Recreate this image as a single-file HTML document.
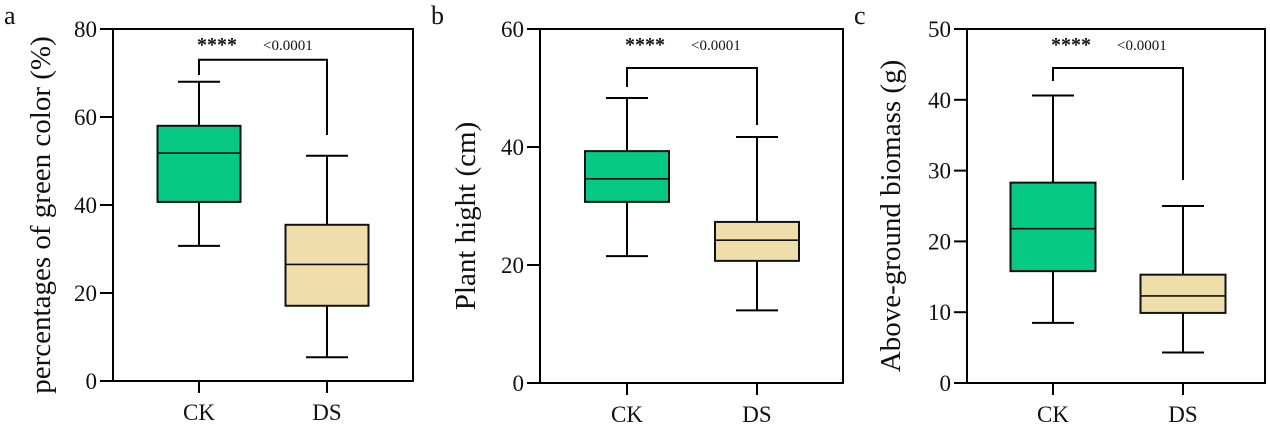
<!DOCTYPE html>
<html><head><meta charset="utf-8"><style>
html,body{margin:0;padding:0;background:#fff;width:1270px;height:424px;overflow:hidden}
svg{display:block}
text{font-family:"Liberation Serif",serif;fill:#111}
</style></head><body>
<svg id="chart" width="1270" height="424" viewBox="0 0 1270 424" xmlns="http://www.w3.org/2000/svg"></svg>
<script>
const categories = ["CK","DS"];
const panelLetters = ["a","b","c"];
const yTitles = ["percentages of green color (%)","Plant hight (cm)","Above-ground biomass (g)"];
const yTicksA = [0,20,40,60,80];
const yTicksB = [0,20,40,60];
const yTicksC = [0,10,20,30,40,50];
// [min, q1, median, q3, max]
const greenCK = [30.7,40.7,51.8,58.0,68.0];
const greenDS = [5.4,17.1,26.5,35.5,51.2];
const heightCK = [21.5,30.7,34.6,39.3,48.3];
const heightDS = [12.3,20.7,24.2,27.3,41.7];
const biomassCK = [8.5,15.8,21.8,28.3,40.6];
const biomassDS = [4.3,9.9,12.3,15.3,25.0];
const bracketValues = [73,53.4,44.5];
const stars = "****";
const pLabel = "<0.0001";

const NS="http://www.w3.org/2000/svg";
const svg=document.getElementById('chart');
function mk(tag,attrs,parent){const e=document.createElementNS(NS,tag);for(const k in attrs)e.setAttribute(k,attrs[k]);(parent||svg).appendChild(e);return e;}

const panels=[
 {x0:113,x1:413,y0:29,y1:381,ticks:yTicksA,data:[greenCK,greenDS],cx:[199,327],bw:83,lx:14,tx:104,legL:75,legR:135,tiX:50},
 {x0:540,x1:843,y0:29,y1:383,ticks:yTicksB,data:[heightCK,heightDS],cx:[627,757],bw:84,lx:441,tx:531,legL:87,legR:125,tiX:475},
 {x0:967,x1:1265,y0:29,y1:383,ticks:yTicksC,data:[biomassCK,biomassDS],cx:[1053,1183],bw:85,lx:864,tx:958,legL:81,legR:180,tiX:900}
];
const fills=["#05c985","#f0deaa"];

panels.forEach((p,pi)=>{
  const g=mk('g',{});
  
  
  const maxV=p.ticks[p.ticks.length-1];
  const y=v=>p.y1-(v/maxV)*(p.y1-p.y0);
  const letter=mk('text',{x:p.lx-10,y:24,'font-size':26},g);letter.textContent=panelLetters[pi];
  
  
  const frame=mk('rect',{x:p.x0,y:p.y0,width:p.x1-p.x0,height:p.y1-p.y0,fill:'none',stroke:'#000','stroke-width':2},g);
  
  
  p.ticks.forEach(t=>{
    mk('line',{x1:p.x0-13,x2:p.x0,y1:y(t),y2:y(t),stroke:'#000','stroke-width':2},g);
    const tl=mk('text',{x:p.x0-16,y:y(t)+8,'font-size':23,'text-anchor':'end'},g);tl.textContent=t;
    
    
  });
  const yt=mk('text',{x:0,y:0,'font-size':29,'text-anchor':'middle',transform:`translate(${p.tiX},${(p.y0+p.y1)/2+10}) rotate(-90)`},g);
  yt.textContent=yTitles[pi];
  
  
  categories.forEach((c,ci)=>{
    const cx=p.cx[ci],d=p.data[ci];
    mk('line',{x1:cx,x2:cx,y1:p.y1,y2:p.y1+12,stroke:'#000','stroke-width':2},g);
    const xl=mk('text',{x:cx,y:p.y1+39,'font-size':23,'text-anchor':'middle'},g);xl.textContent=c;
    
    
    mk('line',{x1:cx,x2:cx,y1:y(d[0]),y2:y(d[4]),stroke:'#000','stroke-width':2},g);
    mk('line',{x1:cx-21,x2:cx+21,y1:y(d[0]),y2:y(d[0]),stroke:'#000','stroke-width':2},g);
    mk('line',{x1:cx-21,x2:cx+21,y1:y(d[4]),y2:y(d[4]),stroke:'#000','stroke-width':2},g);
    const box=mk('rect',{x:cx-p.bw/2,y:y(d[3]),width:p.bw,height:y(d[1])-y(d[3]),fill:fills[ci],stroke:'#111','stroke-width':2},g);
    
    
    mk('line',{x1:cx-p.bw/2,x2:cx+p.bw/2,y1:y(d[2]),y2:y(d[2]),stroke:'#111','stroke-width':1.6},g);
  });
  const by=y(bracketValues[pi]);
  const br=mk('path',{d:`M${p.cx[0]},${p.y0+p.legL-0} V${by} H${p.cx[1]} V${p.y0+p.legR-29+29-0}`,fill:'none',stroke:'#000','stroke-width':2},g);
  br.setAttribute('d',`M${p.cx[0]},${p.legL} V${by} H${p.cx[1]} V${p.legR}`);
  
  
  const st=mk('text',{x:p.cx[0]-2,y:51,'font-size':20,'font-weight':'bold','font-family':'Liberation Sans, sans-serif'},g);st.textContent=stars;
  
  
  const pv=mk('text',{x:p.cx[0]+64,y:50,'font-size':15,'font-family':'Liberation Sans, sans-serif'},g);pv.textContent=pLabel;
  
  
});
</script>
</body></html>
